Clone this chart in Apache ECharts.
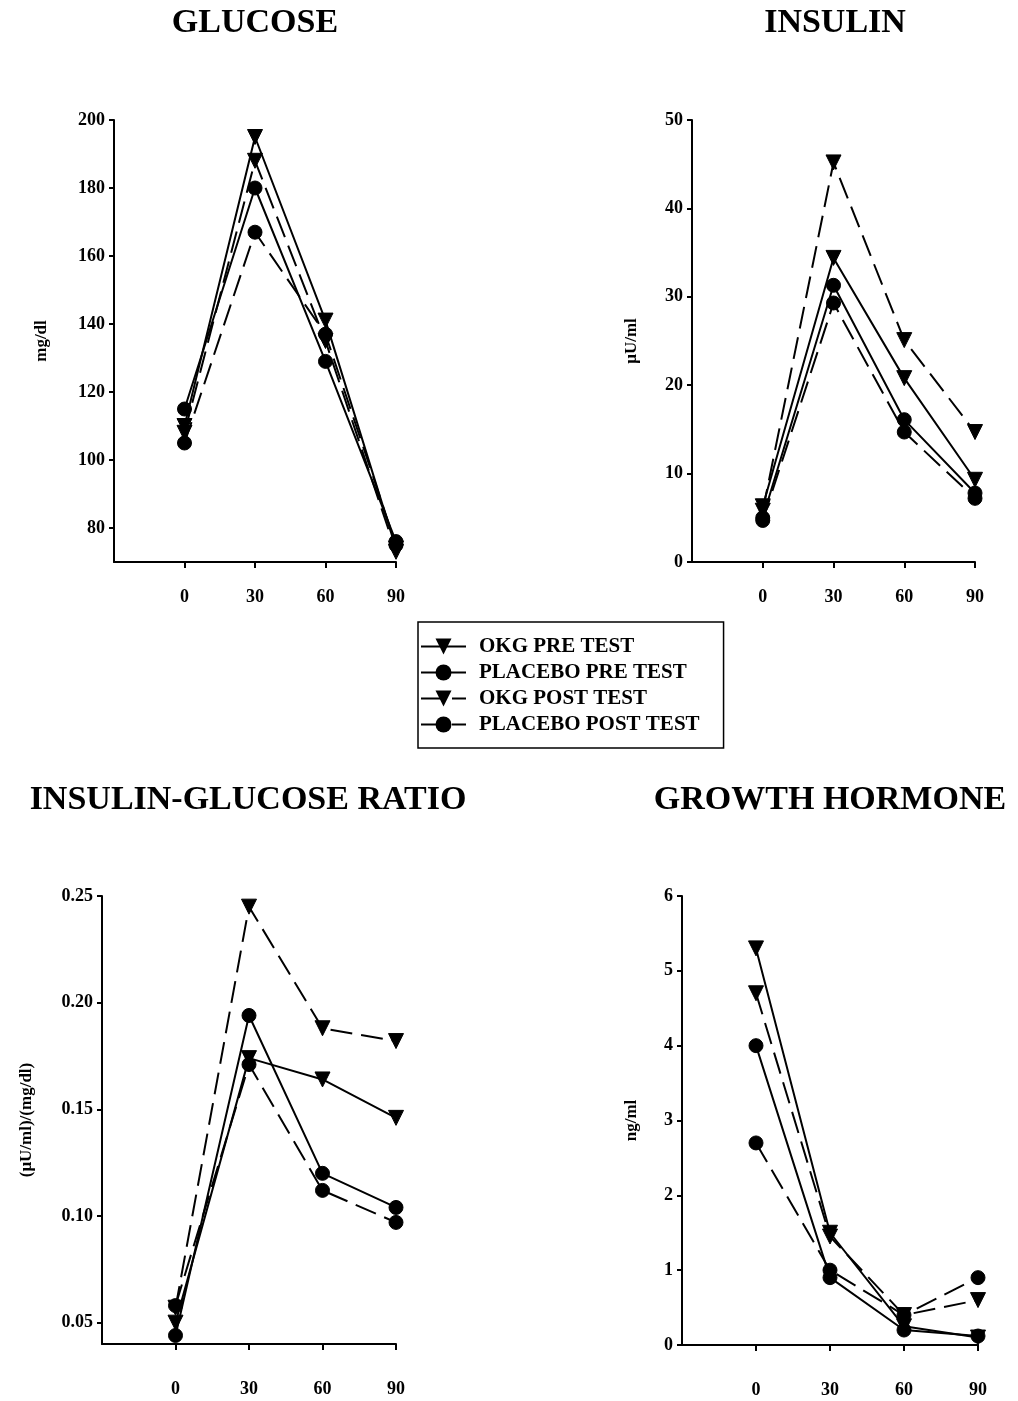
<!DOCTYPE html>
<html>
<head>
<meta charset="utf-8">
<script src="https://cdn.jsdelivr.net/npm/echarts@6/dist/echarts.min.js"></script>
<style>
html,body{margin:0;padding:0;background:#fff;}
#main{width:1018px;height:1401px;}
</style>
</head>
<body>
<div id="main"></div>
<script>
// ---- data ----
const times = [0, 30, 60, 90];
const xTickValues = [0, 30, 60, 90];
const seriesNames = ['OKG PRE TEST', 'PLACEBO PRE TEST', 'OKG POST TEST', 'PLACEBO POST TEST'];

const glucoseOkgPre = [110, 195, 141, 74];
const glucosePlaceboPre = [115, 180, 129, 76];
const glucoseOkgPost = [108, 188, 135, 73];
const glucosePlaceboPost = [105, 167, 137, 75];

const insulinOkgPre = [6.3, 34.4, 20.8, 9.3];
const insulinPlaceboPre = [5.0, 31.3, 16.1, 7.8];
const insulinOkgPost = [5.8, 45.2, 25.1, 14.7];
const insulinPlaceboPost = [4.7, 29.3, 14.7, 7.2];

const ratioOkgPre = [0.050, 0.174, 0.164, 0.146];
const ratioPlaceboPre = [0.044, 0.194, 0.120, 0.104];
const ratioOkgPost = [0.057, 0.245, 0.188, 0.182];
const ratioPlaceboPost = [0.058, 0.171, 0.112, 0.097];

const ghOkgPre = [5.3, 1.5, 0.25, 0.10];
const ghPlaceboPre = [4.0, 0.9, 0.20, 0.12];
const ghOkgPost = [4.7, 1.45, 0.40, 0.60];
const ghPlaceboPost = [2.7, 1.0, 0.40, 0.90];

const glucoseTicks = [80, 100, 120, 140, 160, 180, 200];
const insulinTicks = [0, 10, 20, 30, 40, 50];
const ratioTicks = [0.05, 0.10, 0.15, 0.20, 0.25];
const ghTicks = [0, 1, 2, 3, 4, 5, 6];

const panelTitles = ['GLUCOSE', 'INSULIN', 'INSULIN-GLUCOSE RATIO', 'GROWTH HORMONE'];
const axisNames = ['mg/dl', 'μU/ml', '(μU/ml)/(mg/dl)', 'ng/ml'];

// ---- styling ----
const FONT = '"Liberation Serif", "Times New Roman", serif';
const grids = [
  {left: 114, top: 120, width: 282, height: 442},
  {left: 692, top: 120, width: 283, height: 442},
  {left: 102, top: 896, width: 294, height: 448},
  {left: 682, top: 896, width: 296, height: 449}
];
const yRanges = [
  {min: 70, max: 200, ticks: glucoseTicks, gap: 64, fmt: v => String(v)},
  {min: 0, max: 50, ticks: insulinTicks, gap: 52, fmt: v => String(v)},
  {min: 0.04, max: 0.25, ticks: ratioTicks, gap: 67, fmt: v => v.toFixed(2)},
  {min: 0, max: 6, ticks: ghTicks, gap: 42, fmt: v => String(v)}
];
const xLabelMargins = [26, 26, 36, 36];
const panelData = [
  [glucoseOkgPre, glucosePlaceboPre, glucoseOkgPost, glucosePlaceboPost],
  [insulinOkgPre, insulinPlaceboPre, insulinOkgPost, insulinPlaceboPost],
  [ratioOkgPre, ratioPlaceboPre, ratioOkgPost, ratioPlaceboPost],
  [ghOkgPre, ghPlaceboPre, ghOkgPost, ghPlaceboPost]
];
const titlePos = [[255, 23], [835, 23], [248, 800], [830, 800]];

const axisLine = {show: true, onZero: false, lineStyle: {color: '#000', width: 2}};
const xAxes = grids.map((g, i) => ({
  type: 'value', gridIndex: i, min: -30, max: 90,
  axisLine: axisLine,
  axisTick: {show: true, length: 6, lineStyle: {color: '#000', width: 2}, customValues: xTickValues},
  axisLabel: {show: true, customValues: xTickValues, margin: xLabelMargins[i], color: '#000',
    fontFamily: FONT, fontWeight: 'bold', fontSize: 18},
  splitLine: {show: false}
}));
const yAxes = grids.map((g, i) => ({
  type: 'value', gridIndex: i, min: yRanges[i].min, max: yRanges[i].max,
  name: axisNames[i], nameLocation: 'middle', nameRotate: 90, nameGap: yRanges[i].gap,
  nameTextStyle: {color: '#000', fontFamily: FONT, fontWeight: 'bold', fontSize: 17},
  axisLine: axisLine,
  axisTick: {show: true, length: 5, lineStyle: {color: '#000', width: 2}, customValues: yRanges[i].ticks},
  axisLabel: {show: true, customValues: yRanges[i].ticks, margin: 9, color: '#000',
    fontFamily: FONT, fontWeight: 'bold', fontSize: 18, formatter: yRanges[i].fmt},
  splitLine: {show: false}
}));

const isTri = [true, false, true, false];
const isDash = [false, false, true, true];
const series = [];
panelData.forEach((arrs, p) => {
  arrs.forEach((vals, k) => {
    series.push({
      type: 'line', name: seriesNames[k], xAxisIndex: p, yAxisIndex: p,
      data: times.map((t, j) => [t, vals[j]]),
      symbol: isTri[k] ? 'triangle' : 'circle',
      symbolRotate: isTri[k] ? 180 : 0,
      symbolSize: isTri[k] ? 15 : 14,
      showAllSymbol: true,
      clip: false,
      lineStyle: {color: '#000', width: 2, type: isDash[k] ? [22, 9] : 'solid'},
      itemStyle: {color: '#000', borderColor: '#000'},
      emphasis: {disabled: true}
    });
  });
});

const chart = echarts.init(document.getElementById('main'), null, {renderer: 'canvas'});
chart.setOption({
  animation: false,
  backgroundColor: '#fff',
  grid: grids,
  xAxis: xAxes,
  yAxis: yAxes,
  series: series,
  legend: {
    data: seriesNames,
    orient: 'vertical',
    left: 418, top: 622,
    padding: [14, 24, 13, 2],
    itemWidth: 45, itemHeight: 20, itemGap: 5,
    itemStyle: {borderWidth: 0},
    lineStyle: {width: 2},
    borderColor: '#000', borderWidth: 1.5,
    textStyle: {color: '#000', fontFamily: FONT, fontWeight: 'bold', fontSize: 21, lineHeight: 20,
      padding: [0, 0, 0, 8]},
    selectedMode: false
  },
  graphic: panelTitles.map((t, i) => ({
    type: 'text', x: titlePos[i][0], y: titlePos[i][1],
    style: {text: t, fill: '#000', font: 'bold 34px ' + FONT, textAlign: 'center', textVerticalAlign: 'middle'}
  }))
});
</script>
</body>
</html>
